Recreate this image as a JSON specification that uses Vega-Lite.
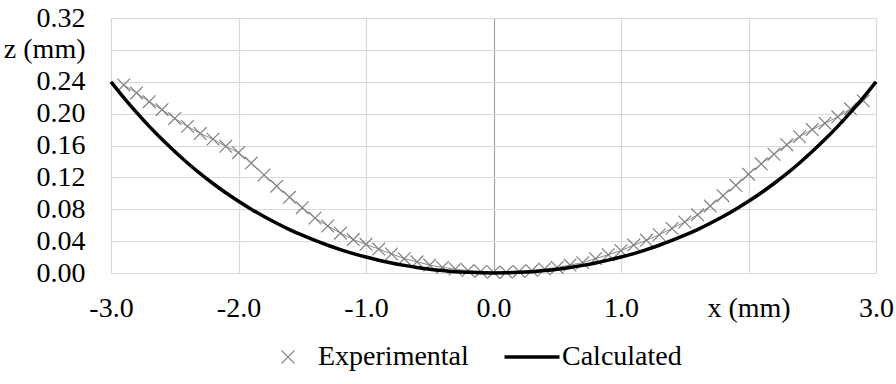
{
  "$schema": "https://vega.github.io/schema/vega-lite/v6.json",
  "autosize": {"type": "none"},
  "padding": {"left": 111, "top": 18, "right": 20, "bottom": 111},
  "width": 765,
  "height": 255,
  "background": "white",
  "config": {
    "view": {"stroke": null},
    "font": "Liberation Serif",
    "axis": {
      "labelFont": "Liberation Serif",
      "labelFontSize": 28,
      "labelColor": "#000000",
      "ticks": false,
      "domain": false,
      "gridColor": "#d9d9d9",
      "gridWidth": 1.2,
      "title": null
    },
    "legend": {
      "labelFont": "Liberation Serif",
      "labelFontSize": 28,
      "labelColor": "#000000"
    }
  },
  "data": {
    "values": [
      {"series": "Calculated", "x": -3.0, "z": 0.24},
      {"series": "Calculated", "x": -2.9, "z": 0.2201},
      {"series": "Calculated", "x": -2.8, "z": 0.2015},
      {"series": "Calculated", "x": -2.7, "z": 0.184},
      {"series": "Calculated", "x": -2.6, "z": 0.1677},
      {"series": "Calculated", "x": -2.5, "z": 0.1524},
      {"series": "Calculated", "x": -2.4, "z": 0.1381},
      {"series": "Calculated", "x": -2.3, "z": 0.1247},
      {"series": "Calculated", "x": -2.2, "z": 0.1123},
      {"series": "Calculated", "x": -2.1, "z": 0.1007},
      {"series": "Calculated", "x": -2.0, "z": 0.09},
      {"series": "Calculated", "x": -1.9, "z": 0.0801},
      {"series": "Calculated", "x": -1.8, "z": 0.0709},
      {"series": "Calculated", "x": -1.7, "z": 0.0624},
      {"series": "Calculated", "x": -1.6, "z": 0.0545},
      {"series": "Calculated", "x": -1.5, "z": 0.0474},
      {"series": "Calculated", "x": -1.4, "z": 0.0408},
      {"series": "Calculated", "x": -1.3, "z": 0.0348},
      {"series": "Calculated", "x": -1.2, "z": 0.0293},
      {"series": "Calculated", "x": -1.1, "z": 0.0244},
      {"series": "Calculated", "x": -1.0, "z": 0.02},
      {"series": "Calculated", "x": -0.9, "z": 0.0161},
      {"series": "Calculated", "x": -0.8, "z": 0.0126},
      {"series": "Calculated", "x": -0.7, "z": 0.0096},
      {"series": "Calculated", "x": -0.6, "z": 0.007},
      {"series": "Calculated", "x": -0.5, "z": 0.0048},
      {"series": "Calculated", "x": -0.4, "z": 0.0031},
      {"series": "Calculated", "x": -0.3, "z": 0.0017},
      {"series": "Calculated", "x": -0.2, "z": 0.0008},
      {"series": "Calculated", "x": -0.1, "z": 0.0002},
      {"series": "Calculated", "x": 0.0, "z": 0.0},
      {"series": "Calculated", "x": 0.1, "z": 0.0002},
      {"series": "Calculated", "x": 0.2, "z": 0.0008},
      {"series": "Calculated", "x": 0.3, "z": 0.0017},
      {"series": "Calculated", "x": 0.4, "z": 0.0031},
      {"series": "Calculated", "x": 0.5, "z": 0.0048},
      {"series": "Calculated", "x": 0.6, "z": 0.007},
      {"series": "Calculated", "x": 0.7, "z": 0.0096},
      {"series": "Calculated", "x": 0.8, "z": 0.0126},
      {"series": "Calculated", "x": 0.9, "z": 0.0161},
      {"series": "Calculated", "x": 1.0, "z": 0.02},
      {"series": "Calculated", "x": 1.1, "z": 0.0244},
      {"series": "Calculated", "x": 1.2, "z": 0.0293},
      {"series": "Calculated", "x": 1.3, "z": 0.0348},
      {"series": "Calculated", "x": 1.4, "z": 0.0408},
      {"series": "Calculated", "x": 1.5, "z": 0.0474},
      {"series": "Calculated", "x": 1.6, "z": 0.0545},
      {"series": "Calculated", "x": 1.7, "z": 0.0624},
      {"series": "Calculated", "x": 1.8, "z": 0.0709},
      {"series": "Calculated", "x": 1.9, "z": 0.0801},
      {"series": "Calculated", "x": 2.0, "z": 0.09},
      {"series": "Calculated", "x": 2.1, "z": 0.1007},
      {"series": "Calculated", "x": 2.2, "z": 0.1123},
      {"series": "Calculated", "x": 2.3, "z": 0.1247},
      {"series": "Calculated", "x": 2.4, "z": 0.1381},
      {"series": "Calculated", "x": 2.5, "z": 0.1524},
      {"series": "Calculated", "x": 2.6, "z": 0.1677},
      {"series": "Calculated", "x": 2.7, "z": 0.184},
      {"series": "Calculated", "x": 2.8, "z": 0.2015},
      {"series": "Calculated", "x": 2.9, "z": 0.2201},
      {"series": "Calculated", "x": 3.0, "z": 0.24},
      {"series": "Experimental", "x": -2.9, "z": 0.236},
      {"series": "Experimental", "x": -2.8, "z": 0.226},
      {"series": "Experimental", "x": -2.7, "z": 0.215},
      {"series": "Experimental", "x": -2.6, "z": 0.205},
      {"series": "Experimental", "x": -2.5, "z": 0.194},
      {"series": "Experimental", "x": -2.4, "z": 0.184},
      {"series": "Experimental", "x": -2.3, "z": 0.175},
      {"series": "Experimental", "x": -2.2, "z": 0.168},
      {"series": "Experimental", "x": -2.1, "z": 0.159},
      {"series": "Experimental", "x": -2.0, "z": 0.151},
      {"series": "Experimental", "x": -1.9, "z": 0.138},
      {"series": "Experimental", "x": -1.8, "z": 0.123},
      {"series": "Experimental", "x": -1.7, "z": 0.109},
      {"series": "Experimental", "x": -1.6, "z": 0.095},
      {"series": "Experimental", "x": -1.5, "z": 0.082},
      {"series": "Experimental", "x": -1.4, "z": 0.069},
      {"series": "Experimental", "x": -1.3, "z": 0.059},
      {"series": "Experimental", "x": -1.2, "z": 0.05},
      {"series": "Experimental", "x": -1.1, "z": 0.042},
      {"series": "Experimental", "x": -1.0, "z": 0.036},
      {"series": "Experimental", "x": -0.9, "z": 0.03},
      {"series": "Experimental", "x": -0.8, "z": 0.024},
      {"series": "Experimental", "x": -0.7, "z": 0.018},
      {"series": "Experimental", "x": -0.6, "z": 0.014},
      {"series": "Experimental", "x": -0.5, "z": 0.01},
      {"series": "Experimental", "x": -0.4, "z": 0.007},
      {"series": "Experimental", "x": -0.3, "z": 0.005},
      {"series": "Experimental", "x": -0.2, "z": 0.003},
      {"series": "Experimental", "x": -0.1, "z": 0.002},
      {"series": "Experimental", "x": 0.0, "z": 0.001},
      {"series": "Experimental", "x": 0.1, "z": 0.001},
      {"series": "Experimental", "x": 0.2, "z": 0.002},
      {"series": "Experimental", "x": 0.3, "z": 0.003},
      {"series": "Experimental", "x": 0.4, "z": 0.005},
      {"series": "Experimental", "x": 0.5, "z": 0.007},
      {"series": "Experimental", "x": 0.6, "z": 0.01},
      {"series": "Experimental", "x": 0.7, "z": 0.013},
      {"series": "Experimental", "x": 0.8, "z": 0.018},
      {"series": "Experimental", "x": 0.9, "z": 0.023},
      {"series": "Experimental", "x": 1.0, "z": 0.028},
      {"series": "Experimental", "x": 1.1, "z": 0.035},
      {"series": "Experimental", "x": 1.2, "z": 0.041},
      {"series": "Experimental", "x": 1.3, "z": 0.048},
      {"series": "Experimental", "x": 1.4, "z": 0.056},
      {"series": "Experimental", "x": 1.5, "z": 0.064},
      {"series": "Experimental", "x": 1.6, "z": 0.073},
      {"series": "Experimental", "x": 1.7, "z": 0.084},
      {"series": "Experimental", "x": 1.8, "z": 0.097},
      {"series": "Experimental", "x": 1.9, "z": 0.11},
      {"series": "Experimental", "x": 2.0, "z": 0.124},
      {"series": "Experimental", "x": 2.1, "z": 0.137},
      {"series": "Experimental", "x": 2.2, "z": 0.149},
      {"series": "Experimental", "x": 2.3, "z": 0.161},
      {"series": "Experimental", "x": 2.4, "z": 0.171},
      {"series": "Experimental", "x": 2.5, "z": 0.18},
      {"series": "Experimental", "x": 2.6, "z": 0.188},
      {"series": "Experimental", "x": 2.7, "z": 0.196},
      {"series": "Experimental", "x": 2.8, "z": 0.206},
      {"series": "Experimental", "x": 2.9, "z": 0.216}
    ]
  },
  "encoding": {
    "x": {
      "field": "x",
      "type": "quantitative",
      "scale": {"domain": [-3, 3], "nice": false, "zero": false},
      "axis": {
        "values": [-3, -2, -1, 0, 1, 2, 3],
        "labelPadding": 21,
        "labelBaseline": "top",
        "labelFlush": false,
        "labelOverlap": false,
        "gridColor": {"condition": {"test": "datum.value === 0", "value": "#a6a6a6"}, "value": "#d9d9d9"},
        "labelExpr": "datum.value === 2 ? 'x (mm)' : (datum.value < 0 ? '-' : '') + format(abs(datum.value), '.1f')"
      }
    },
    "y": {
      "field": "z",
      "type": "quantitative",
      "scale": {"domain": [0, 0.32], "nice": false},
      "axis": {
        "values": [0, 0.04, 0.08, 0.12, 0.16, 0.2, 0.24, 0.28, 0.32],
        "labelPadding": 26,
        "labelFlush": false,
        "labelOverlap": false,
        "labelExpr": "abs(datum.value - 0.28) < 0.001 ? 'z (mm)' : format(datum.value, '.2f')"
      }
    },
    "color": {
      "field": "series",
      "type": "nominal",
      "scale": {"domain": ["Experimental", "Calculated"], "range": ["#808080", "#000000"]},
      "legend": {
        "title": null,
        "orient": "none",
        "direction": "horizontal",
        "legendX": 163,
        "legendY": 325,
        "labelFont": "Liberation Serif",
        "labelFontSize": 28,
        "labelColor": "#000000",
        "symbolSize": 3025,
        "labelOffset": 16,
        "columnPadding": 28,
        "encode": {
          "symbols": {
            "update": {
              "shape": {"signal": "datum.value === 'Experimental' ? 'M-0.24,-0.24L0.24,0.24M0.24,-0.24L-0.24,0.24' : 'stroke'"},
              "strokeWidth": {"signal": "datum.value === 'Experimental' ? 1.2 : 3.5"},
              "stroke": {"signal": "datum.value === 'Experimental' ? '#808080' : '#000000'"},
              "fill": {"value": "transparent"},
              "opacity": {"value": 1}
            }
          }
        }
      }
    }
  },
  "layer": [
    {
      "transform": [{"filter": "datum.series === 'Experimental'"}],
      "mark": {"type": "line", "strokeWidth": 1, "opacity": 0.9}
    },
    {
      "transform": [{"filter": "datum.series === 'Experimental'"}],
      "mark": {"type": "point", "shape": "M-1,-1L1,1M1,-1L-1,1", "size": 160, "filled": false, "strokeWidth": 1.2, "opacity": 1}
    },
    {
      "transform": [{"filter": "datum.series === 'Calculated'"}],
      "mark": {"type": "line", "strokeWidth": 3.5, "interpolate": "monotone"}
    }
  ]
}
